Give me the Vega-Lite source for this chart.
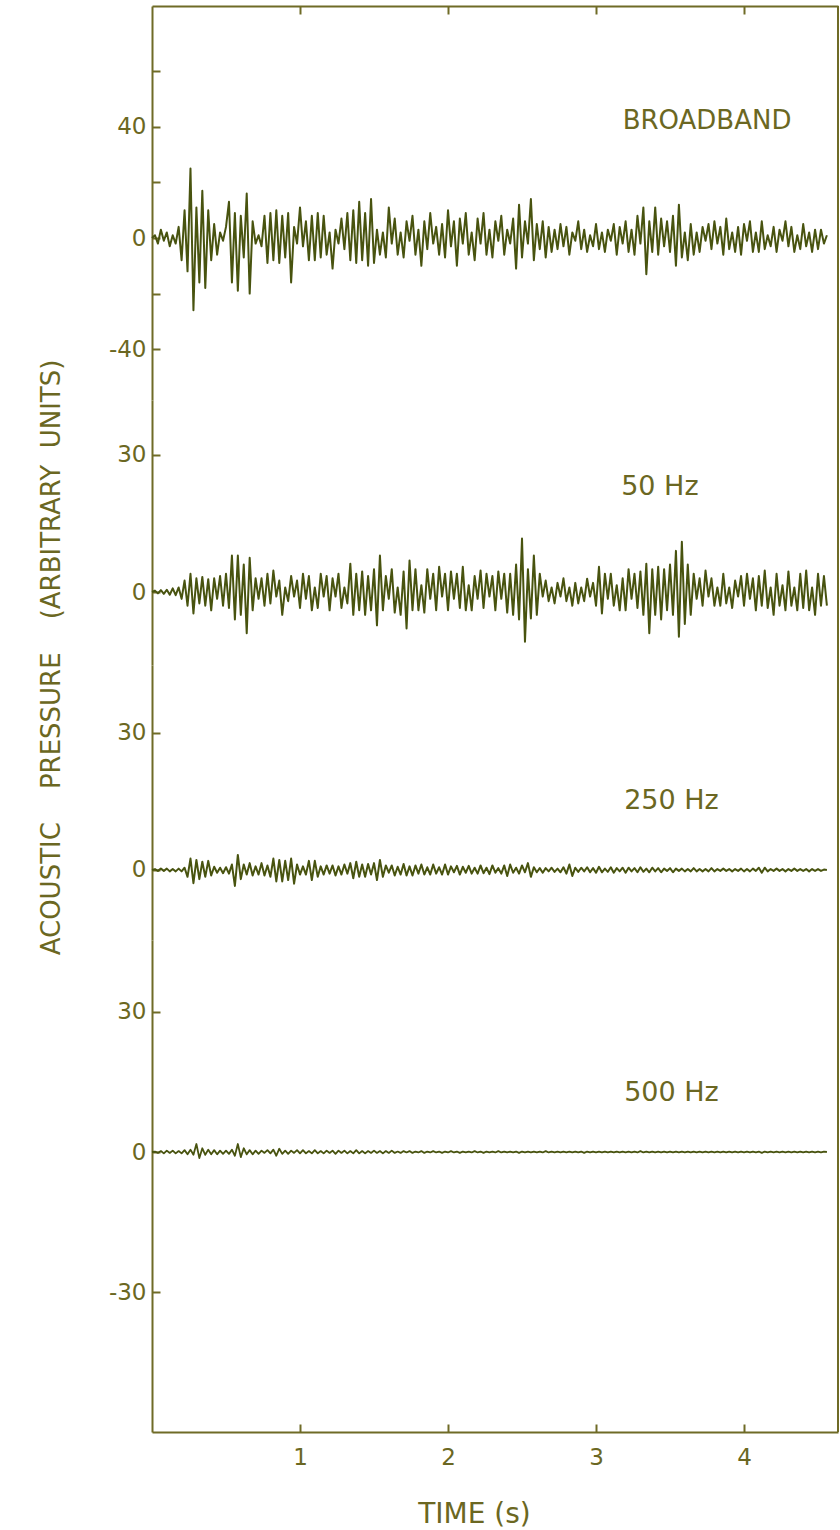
{
"$schema":"https://vega.github.io/schema/vega-lite/v6.json",
"background":"#ffffff",
"padding":{"left":37,"top":5,"right":2,"bottom":2},
"spacing":0,
"bounds":"flush",
"config":{"view":{"stroke":null},"font":"DejaVu Sans",
"axis":{"grid":false,"domainColor":"#6f6b26","domainWidth":2,"tickColor":"#6f6b26","tickWidth":2,"labelColor":"#6b6722","titleColor":"#6b6722","labelFont":"DejaVu Sans","titleFont":"DejaVu Sans","labelFontSize":23,"titleFontWeight":"normal"}},
"datasets":{"w":[
{"t":0.00,"bb":0,"h50":0,"h250":0,"h500":0},
{"t":0.02,"bb":1,"h50":0.3,"h250":0.2,"h500":0.1},
{"t":0.04,"bb":-2,"h50":-0.3,"h250":-0.2,"h500":-0.2},
{"t":0.06,"bb":3,"h50":0.4,"h250":0.3,"h500":0.2},
{"t":0.08,"bb":-1,"h50":-0.4,"h250":-0.2,"h500":-0.3},
{"t":0.10,"bb":2,"h50":0.5,"h250":0.3,"h500":0.3},
{"t":0.12,"bb":-3,"h50":-0.6,"h250":-0.3,"h500":-0.2},
{"t":0.14,"bb":1,"h50":0.8,"h250":0.2,"h500":0.3},
{"t":0.16,"bb":-2,"h50":-0.7,"h250":-0.3,"h500":-0.3},
{"t":0.18,"bb":4,"h50":1,"h250":0.3,"h500":0.2},
{"t":0.20,"bb":-8,"h50":-1.5,"h250":-0.3,"h500":-0.3},
{"t":0.22,"bb":10,"h50":2.5,"h250":0.5,"h500":0.4},
{"t":0.24,"bb":-12,"h50":-3,"h250":-1.5,"h500":-0.5},
{"t":0.26,"bb":25,"h50":4,"h250":2.5,"h500":0.5},
{"t":0.28,"bb":-26,"h50":-4.7,"h250":-2.9,"h500":-0.6},
{"t":0.30,"bb":11,"h50":3,"h250":2.2,"h500":1.7},
{"t":0.32,"bb":-16,"h50":-2.5,"h250":-2,"h500":-1.3},
{"t":0.34,"bb":17,"h50":3.3,"h250":1.8,"h500":0.8},
{"t":0.36,"bb":-18,"h50":-3,"h250":-1.5,"h500":-0.6},
{"t":0.38,"bb":10,"h50":2.8,"h250":2,"h500":0.5},
{"t":0.40,"bb":-8,"h50":-4,"h250":-1.2,"h500":-0.5},
{"t":0.42,"bb":5,"h50":3,"h250":0.7,"h500":0.4},
{"t":0.44,"bb":-6,"h50":-1.5,"h250":-0.6,"h500":-0.5},
{"t":0.46,"bb":2,"h50":3.5,"h250":0.5,"h500":0.3},
{"t":0.48,"bb":-1,"h50":-3,"h250":-0.7,"h500":-0.4},
{"t":0.50,"bb":4,"h50":4,"h250":0.6,"h500":0.3},
{"t":0.52,"bb":13,"h50":-3.5,"h250":-0.8,"h500":-0.4},
{"t":0.54,"bb":-16,"h50":8,"h250":1.2,"h500":0.5},
{"t":0.56,"bb":9,"h50":-6,"h250":-3.5,"h500":-0.8},
{"t":0.58,"bb":-19,"h50":8,"h250":3.3,"h500":1.7},
{"t":0.60,"bb":8,"h50":-5,"h250":-2,"h500":-1.1},
{"t":0.62,"bb":-7,"h50":6,"h250":1.2,"h500":0.8},
{"t":0.64,"bb":16,"h50":-9,"h250":-1,"h500":-0.5},
{"t":0.66,"bb":-20,"h50":7.5,"h250":1.5,"h500":0.4},
{"t":0.68,"bb":6,"h50":-4,"h250":-1.2,"h500":-0.5},
{"t":0.70,"bb":-2,"h50":3,"h250":0.8,"h500":0.3},
{"t":0.72,"bb":1,"h50":-1.5,"h250":-1,"h500":-0.4},
{"t":0.74,"bb":-3,"h50":3,"h250":1.5,"h500":0.3},
{"t":0.76,"bb":8,"h50":-3,"h250":-1.2,"h500":-0.2},
{"t":0.78,"bb":-9,"h50":4,"h250":1,"h500":0.4},
{"t":0.80,"bb":9,"h50":-2.5,"h250":-1.5,"h500":-0.3},
{"t":0.82,"bb":-8,"h50":4.7,"h250":2.5,"h500":0.5},
{"t":0.84,"bb":10,"h50":-1,"h250":-2.5,"h500":-0.8},
{"t":0.86,"bb":-9,"h50":2.5,"h250":2.2,"h500":0.7},
{"t":0.88,"bb":8,"h50":-5,"h250":-2.5,"h500":-0.4},
{"t":0.90,"bb":-7,"h50":1,"h250":2,"h500":0.3},
{"t":0.92,"bb":9,"h50":-2,"h250":-2.2,"h500":-0.4},
{"t":0.94,"bb":-16,"h50":3.5,"h250":2.5,"h500":0.3},
{"t":0.96,"bb":4,"h50":-1,"h250":-3,"h500":-0.2},
{"t":0.98,"bb":-2,"h50":2.5,"h250":1.2,"h500":0.4},
{"t":1.00,"bb":11,"h50":-3.5,"h250":-1,"h500":-0.3},
{"t":1.02,"bb":-3,"h50":4,"h250":0.8,"h500":0.4},
{"t":1.04,"bb":6,"h50":-1.5,"h250":-1,"h500":-0.3},
{"t":1.06,"bb":-8,"h50":3.5,"h250":2,"h500":0.2},
{"t":1.08,"bb":8,"h50":-4,"h250":-2.2,"h500":-0.3},
{"t":1.10,"bb":-8,"h50":1,"h250":2,"h500":0.4},
{"t":1.12,"bb":9,"h50":-3.5,"h250":-1.5,"h500":-0.3},
{"t":1.14,"bb":-7,"h50":4,"h250":0.8,"h500":0.2},
{"t":1.16,"bb":8,"h50":-1,"h250":-1,"h500":-0.3},
{"t":1.18,"bb":-6,"h50":3.5,"h250":1,"h500":0.3},
{"t":1.20,"bb":2,"h50":-4,"h250":-0.8,"h500":-0.2},
{"t":1.22,"bb":-11,"h50":3,"h250":1,"h500":0.3},
{"t":1.24,"bb":3,"h50":-1,"h250":-1.2,"h500":-0.4},
{"t":1.26,"bb":-2,"h50":4,"h250":0.8,"h500":0.3},
{"t":1.28,"bb":7,"h50":-3.5,"h250":-1,"h500":-0.2},
{"t":1.30,"bb":-4,"h50":1,"h250":1.2,"h500":0.3},
{"t":1.32,"bb":9,"h50":-2.5,"h250":-0.8,"h500":-0.3},
{"t":1.34,"bb":-8,"h50":6.2,"h250":1.5,"h500":0.2},
{"t":1.36,"bb":10,"h50":-5,"h250":-1.8,"h500":-0.3},
{"t":1.38,"bb":-9,"h50":4,"h250":1.8,"h500":0.4},
{"t":1.40,"bb":13,"h50":-4,"h250":-1.5,"h500":-0.3},
{"t":1.42,"bb":-8,"h50":4.5,"h250":1.2,"h500":0.2},
{"t":1.44,"bb":9,"h50":-5,"h250":-1.5,"h500":-0.3},
{"t":1.46,"bb":-10,"h50":3.5,"h250":1.3,"h500":0.2},
{"t":1.48,"bb":14,"h50":-4,"h250":-1,"h500":-0.2},
{"t":1.50,"bb":-9,"h50":5,"h250":1.5,"h500":0.3},
{"t":1.52,"bb":3,"h50":-7.3,"h250":-2.2,"h500":-0.2},
{"t":1.54,"bb":-6,"h50":8,"h250":2.2,"h500":0.2},
{"t":1.56,"bb":2,"h50":-4,"h250":-1.5,"h500":-0.3},
{"t":1.58,"bb":-7,"h50":3.5,"h250":1,"h500":0.2},
{"t":1.60,"bb":11,"h50":-1.5,"h250":-0.6,"h500":-0.2},
{"t":1.62,"bb":-2,"h50":5,"h250":1,"h500":0.3},
{"t":1.64,"bb":7,"h50":-4.5,"h250":-1.2,"h500":-0.2},
{"t":1.66,"bb":-6,"h50":1,"h250":0.7,"h500":0.1},
{"t":1.68,"bb":2,"h50":-5,"h250":-1,"h500":-0.2},
{"t":1.70,"bb":-7,"h50":4.5,"h250":1.3,"h500":0.2},
{"t":1.72,"bb":6,"h50":-8,"h250":-1.2,"h500":-0.1},
{"t":1.74,"bb":-1,"h50":6.9,"h250":0.8,"h500":0.2},
{"t":1.76,"bb":8,"h50":-4,"h250":-1.2,"h500":-0.2},
{"t":1.78,"bb":-6,"h50":5,"h250":1,"h500":0.1},
{"t":1.80,"bb":3,"h50":-4,"h250":-0.8,"h500":-0.1},
{"t":1.82,"bb":-10,"h50":1.5,"h250":1.2,"h500":0.2},
{"t":1.84,"bb":6,"h50":-4.5,"h250":-1,"h500":-0.2},
{"t":1.86,"bb":-4,"h50":5,"h250":0.6,"h500":0.1},
{"t":1.88,"bb":9,"h50":-1.5,"h250":-1,"h500":-0.1},
{"t":1.90,"bb":-2,"h50":4,"h250":1.2,"h500":0.2},
{"t":1.92,"bb":4,"h50":-4,"h250":-0.8,"h500":-0.1},
{"t":1.94,"bb":-6,"h50":5.5,"h250":0.6,"h500":0.1},
{"t":1.96,"bb":5,"h50":-1,"h250":-1,"h500":-0.2},
{"t":1.98,"bb":-7,"h50":4,"h250":1.2,"h500":0.1},
{"t":2.00,"bb":10,"h50":-4,"h250":-1,"h500":-0.1},
{"t":2.02,"bb":-3,"h50":4.5,"h250":0.8,"h500":0.2},
{"t":2.04,"bb":6,"h50":-1.5,"h250":-0.5,"h500":-0.1},
{"t":2.06,"bb":-10,"h50":4,"h250":0.9,"h500":0.1},
{"t":2.08,"bb":7,"h50":-3.5,"h250":-1,"h500":-0.2},
{"t":2.10,"bb":-2,"h50":5.5,"h250":0.7,"h500":0.1},
{"t":2.12,"bb":9,"h50":-4,"h250":-0.6,"h500":-0.1},
{"t":2.14,"bb":-6,"h50":1.5,"h250":0.9,"h500":0.1},
{"t":2.16,"bb":2,"h50":-4,"h250":-0.8,"h500":-0.1},
{"t":2.18,"bb":-8,"h50":3.5,"h250":0.5,"h500":0.2},
{"t":2.20,"bb":7,"h50":-1.5,"h250":-0.8,"h500":-0.1},
{"t":2.22,"bb":-2,"h50":4.7,"h250":1,"h500":0.1},
{"t":2.24,"bb":9,"h50":-3.5,"h250":-0.7,"h500":-0.2},
{"t":2.26,"bb":-6,"h50":4,"h250":0.5,"h500":0.1},
{"t":2.28,"bb":3,"h50":-1,"h250":-0.9,"h500":-0.1},
{"t":2.30,"bb":-7,"h50":3.5,"h250":1,"h500":0.1},
{"t":2.32,"bb":6,"h50":-4,"h250":-0.6,"h500":-0.1},
{"t":2.34,"bb":-1,"h50":4.5,"h250":0.4,"h500":0.2},
{"t":2.36,"bb":8,"h50":-1.5,"h250":-0.8,"h500":-0.1},
{"t":2.38,"bb":-6,"h50":4,"h250":1,"h500":0.1},
{"t":2.40,"bb":3,"h50":-4.5,"h250":-1.3,"h500":-0.1},
{"t":2.42,"bb":-2,"h50":4,"h250":1.2,"h500":0.1},
{"t":2.44,"bb":7,"h50":-5,"h250":-0.6,"h500":-0.1},
{"t":2.46,"bb":-11,"h50":6,"h250":0.5,"h500":0.1},
{"t":2.48,"bb":12,"h50":-6,"h250":-0.8,"h500":-0.2},
{"t":2.50,"bb":-7,"h50":11.7,"h250":1,"h500":0.1},
{"t":2.52,"bb":6,"h50":-10.9,"h250":-0.5,"h500":-0.1},
{"t":2.54,"bb":-2,"h50":5,"h250":1.5,"h500":0.1},
{"t":2.56,"bb":14,"h50":-5.8,"h250":-1.5,"h500":-0.1},
{"t":2.58,"bb":-8,"h50":8,"h250":0.6,"h500":0.1},
{"t":2.60,"bb":5,"h50":-5,"h250":-0.5,"h500":-0.1},
{"t":2.62,"bb":-4,"h50":4,"h250":0.4,"h500":0.1},
{"t":2.64,"bb":6,"h50":-1,"h250":-0.6,"h500":-0.1},
{"t":2.66,"bb":-7,"h50":2.5,"h250":0.4,"h500":0.2},
{"t":2.68,"bb":4,"h50":-2,"h250":-0.3,"h500":-0.1},
{"t":2.70,"bb":-5,"h50":1,"h250":0.5,"h500":0.1},
{"t":2.72,"bb":3,"h50":-2.5,"h250":-0.4,"h500":-0.1},
{"t":2.74,"bb":-4,"h50":2,"h250":0.3,"h500":0.1},
{"t":2.76,"bb":5,"h50":-1,"h250":-0.5,"h500":-0.1},
{"t":2.78,"bb":-3,"h50":3,"h250":0.6,"h500":0.1},
{"t":2.80,"bb":4,"h50":-2,"h250":-0.8,"h500":-0.1},
{"t":2.82,"bb":-6,"h50":1,"h250":1.2,"h500":0.1},
{"t":2.84,"bb":2,"h50":-3,"h250":-1.3,"h500":-0.1},
{"t":2.86,"bb":-1,"h50":2,"h250":0.5,"h500":0.1},
{"t":2.88,"bb":6,"h50":-2.5,"h250":-0.4,"h500":-0.1},
{"t":2.90,"bb":-4,"h50":1,"h250":0.5,"h500":0.1},
{"t":2.92,"bb":3,"h50":-2,"h250":-0.3,"h500":-0.2},
{"t":2.94,"bb":-5,"h50":2.9,"h250":0.6,"h500":0.1},
{"t":2.96,"bb":1,"h50":-1,"h250":-0.5,"h500":-0.1},
{"t":2.98,"bb":-3,"h50":2,"h250":0.4,"h500":0.1},
{"t":3.00,"bb":5,"h50":-3,"h250":-0.6,"h500":-0.1},
{"t":3.02,"bb":-4,"h50":5.5,"h250":0.7,"h500":0.1},
{"t":3.04,"bb":2,"h50":-4.7,"h250":-0.5,"h500":-0.1},
{"t":3.06,"bb":-5,"h50":4,"h250":0.3,"h500":0.1},
{"t":3.08,"bb":3,"h50":-1.5,"h250":-0.4,"h500":-0.1},
{"t":3.10,"bb":-1,"h50":4,"h250":0.6,"h500":0.1},
{"t":3.12,"bb":5,"h50":-3,"h250":-0.6,"h500":-0.1},
{"t":3.14,"bb":-6,"h50":1.5,"h250":0.4,"h500":0.1},
{"t":3.16,"bb":4,"h50":-4,"h250":-0.3,"h500":-0.1},
{"t":3.18,"bb":-2,"h50":3,"h250":0.5,"h500":0.1},
{"t":3.20,"bb":6,"h50":-4,"h250":-0.6,"h500":-0.1},
{"t":3.22,"bb":-5,"h50":5,"h250":0.5,"h500":0.1},
{"t":3.24,"bb":3,"h50":-1.5,"h250":-0.3,"h500":-0.1},
{"t":3.26,"bb":-6,"h50":4,"h250":0.4,"h500":0.1},
{"t":3.28,"bb":8,"h50":-3.5,"h250":-0.5,"h500":-0.1},
{"t":3.30,"bb":-2,"h50":4.5,"h250":0.6,"h500":0.2},
{"t":3.32,"bb":11,"h50":-5,"h250":-0.4,"h500":-0.1},
{"t":3.34,"bb":-13,"h50":6.2,"h250":0.3,"h500":0.1},
{"t":3.36,"bb":6,"h50":-9,"h250":-0.5,"h500":-0.1},
{"t":3.38,"bb":-5,"h50":5,"h250":0.5,"h500":0.1},
{"t":3.40,"bb":11,"h50":-5,"h250":-0.3,"h500":-0.1},
{"t":3.42,"bb":-6,"h50":5.5,"h250":0.4,"h500":0.1},
{"t":3.44,"bb":7,"h50":-6,"h250":-0.5,"h500":-0.1},
{"t":3.46,"bb":-3,"h50":5,"h250":0.3,"h500":0.1},
{"t":3.48,"bb":6,"h50":-4,"h250":-0.2,"h500":-0.1},
{"t":3.50,"bb":-5,"h50":6,"h250":0.4,"h500":0.1},
{"t":3.52,"bb":8,"h50":-5,"h250":-0.5,"h500":-0.1},
{"t":3.54,"bb":-10,"h50":9,"h250":0.3,"h500":0.1},
{"t":3.56,"bb":12,"h50":-9.8,"h250":-0.2,"h500":-0.1},
{"t":3.58,"bb":-7,"h50":11,"h250":0.3,"h500":0.1},
{"t":3.60,"bb":2,"h50":-7,"h250":-0.3,"h500":-0.1},
{"t":3.62,"bb":-8,"h50":6,"h250":0.2,"h500":0.1},
{"t":3.64,"bb":5,"h50":-5,"h250":-0.3,"h500":-0.1},
{"t":3.66,"bb":-6,"h50":4,"h250":0.4,"h500":0.1},
{"t":3.68,"bb":2,"h50":-1.5,"h250":-0.3,"h500":-0.1},
{"t":3.70,"bb":-5,"h50":3,"h250":0.2,"h500":0.1},
{"t":3.72,"bb":4,"h50":-3,"h250":-0.3,"h500":-0.1},
{"t":3.74,"bb":-1,"h50":4.7,"h250":0.2,"h500":0.1},
{"t":3.76,"bb":5,"h50":-1,"h250":-0.3,"h500":-0.1},
{"t":3.78,"bb":-4,"h50":3,"h250":0.4,"h500":0.1},
{"t":3.80,"bb":6,"h50":-3,"h250":-0.3,"h500":-0.1},
{"t":3.82,"bb":-2,"h50":1,"h250":0.2,"h500":0.1},
{"t":3.84,"bb":4,"h50":-3,"h250":-0.2,"h500":-0.1},
{"t":3.86,"bb":-6,"h50":4,"h250":0.3,"h500":0.1},
{"t":3.88,"bb":7,"h50":-2.5,"h250":-0.2,"h500":-0.1},
{"t":3.90,"bb":-4,"h50":1,"h250":0.2,"h500":0.1},
{"t":3.92,"bb":2,"h50":-3.5,"h250":-0.3,"h500":-0.1},
{"t":3.94,"bb":-5,"h50":2.5,"h250":0.2,"h500":0.1},
{"t":3.96,"bb":4,"h50":-1,"h250":-0.2,"h500":-0.1},
{"t":3.98,"bb":-6,"h50":3.5,"h250":0.3,"h500":0.1},
{"t":4.00,"bb":5,"h50":-3,"h250":-0.3,"h500":-0.1},
{"t":4.02,"bb":-1,"h50":4,"h250":0.2,"h500":0.1},
{"t":4.04,"bb":6,"h50":-1.5,"h250":-0.3,"h500":-0.1},
{"t":4.06,"bb":-5,"h50":3,"h250":0.3,"h500":0.1},
{"t":4.08,"bb":2,"h50":-4,"h250":-0.2,"h500":-0.1},
{"t":4.10,"bb":-5,"h50":3.5,"h250":0.5,"h500":0.1},
{"t":4.12,"bb":6,"h50":-3,"h250":-0.6,"h500":-0.2},
{"t":4.14,"bb":-4,"h50":4.7,"h250":0.5,"h500":0.1},
{"t":4.16,"bb":1,"h50":-3.5,"h250":-0.3,"h500":-0.1},
{"t":4.18,"bb":-3,"h50":1,"h250":0.2,"h500":0.1},
{"t":4.20,"bb":4,"h50":-5,"h250":-0.2,"h500":-0.1},
{"t":4.22,"bb":-5,"h50":4,"h250":0.3,"h500":0.1},
{"t":4.24,"bb":3,"h50":-3,"h250":-0.2,"h500":-0.1},
{"t":4.26,"bb":-1,"h50":1.5,"h250":0.2,"h500":0.1},
{"t":4.28,"bb":6,"h50":-4,"h250":-0.3,"h500":-0.1},
{"t":4.30,"bb":-3,"h50":4.5,"h250":0.2,"h500":0.1},
{"t":4.32,"bb":4,"h50":-3,"h250":-0.2,"h500":-0.1},
{"t":4.34,"bb":-5,"h50":1,"h250":0.3,"h500":0.1},
{"t":4.36,"bb":1,"h50":-4,"h250":-0.2,"h500":-0.1},
{"t":4.38,"bb":-4,"h50":4,"h250":0.2,"h500":0.1},
{"t":4.40,"bb":5,"h50":-3.5,"h250":-0.2,"h500":-0.1},
{"t":4.42,"bb":-3,"h50":4.7,"h250":0.2,"h500":0.1},
{"t":4.44,"bb":2,"h50":-4,"h250":-0.3,"h500":-0.1},
{"t":4.46,"bb":-5,"h50":1,"h250":0.2,"h500":0.1},
{"t":4.48,"bb":3,"h50":-5,"h250":-0.2,"h500":-0.1},
{"t":4.50,"bb":-4,"h50":4,"h250":0.2,"h500":0.1},
{"t":4.52,"bb":3,"h50":-3,"h250":-0.2,"h500":-0.1},
{"t":4.54,"bb":-2,"h50":3.5,"h250":0.1,"h500":0.1},
{"t":4.56,"bb":1,"h50":-3,"h250":0,"h500":0}
]},
"vconcat":[
{"width":686,"height":394,
 "layer":[
  {"data":{"name":"w"},"mark":{"type":"line","color":"#48530f","strokeWidth":2,"strokeJoin":"round"},
   "encoding":{
    "x":{"field":"t","type":"quantitative","scale":{"domain":[0,4.635],"nice":false,"zero":false},
         "axis":{"orient":"top","values":[1,2,3,4],"labels":false,"tickSize":-8,"title":null}},
    "y":{"field":"bb","type":"quantitative","scale":{"domain":[-58.27,83.45],"nice":false,"zero":false},
         "axis":{"values":[-40,-20,0,20,40,60],"tickSize":-8,"labelPadding":14,"title":null,
                 "labelExpr":"datum.value == 40 ? '40' : datum.value == 0 ? '0' : datum.value == -40 ? '-40' : ''"}}}},
  {"data":{"values":[{"label":"BROADBAND"}]},"mark":{"type":"text","align":"left","baseline":"middle","fontSize":26,"color":"#6b6722"},
   "encoding":{"x":{"datum":3.18},"y":{"datum":42},"text":{"field":"label"}}},
  {"data":{"values":[{}]},"mark":{"type":"rule","color":"#6f6b26","strokeWidth":2},"encoding":{"x":{"datum":4.635}}}
 ]},
{"width":686,"height":265,
 "layer":[
  {"data":{"name":"w"},"mark":{"type":"line","color":"#48530f","strokeWidth":2,"strokeJoin":"round"},
   "encoding":{
    "x":{"field":"t","type":"quantitative","scale":{"domain":[0,4.635],"nice":false,"zero":false},"axis":null},
    "y":{"field":"h50","type":"quantitative","scale":{"domain":[-15.97,42.01],"nice":false,"zero":false},
         "axis":{"values":[0,30],"tickSize":-8,"labelPadding":14,
                 "title":"ACOUSTIC\u00a0\u00a0\u00a0\u00a0PRESSURE\u00a0\u00a0\u00a0\u00a0(ARBITRARY\u00a0\u00a0UNITS)","titleFontSize":26,"titleAngle":270,
                 "titleX":-93,"titleY":257,"titleAlign":"center","titleBaseline":"alphabetic"}}}},
  {"data":{"values":[{"label":"50 Hz"}]},"mark":{"type":"text","align":"left","baseline":"middle","fontSize":27,"color":"#6b6722"},
   "encoding":{"x":{"datum":3.17},"y":{"datum":22.9},"text":{"field":"label"}}},
  {"data":{"values":[{}]},"mark":{"type":"rule","color":"#6f6b26","strokeWidth":2},"encoding":{"x":{"datum":4.635}}}
 ]},
{"width":686,"height":275,
 "layer":[
  {"data":{"name":"w"},"mark":{"type":"line","color":"#48530f","strokeWidth":2,"strokeJoin":"round"},
   "encoding":{
    "x":{"field":"t","type":"quantitative","scale":{"domain":[0,4.635],"nice":false,"zero":false},"axis":null},
    "y":{"field":"h250","type":"quantitative","scale":{"domain":[-15.33,44.89],"nice":false,"zero":false},
         "axis":{"values":[0,30],"tickSize":-8,"labelPadding":14,"title":null}}}},
  {"data":{"values":[{"label":"250 Hz"}]},"mark":{"type":"text","align":"left","baseline":"middle","fontSize":27,"color":"#6b6722"},
   "encoding":{"x":{"datum":3.19},"y":{"datum":15.1},"text":{"field":"label"}}},
  {"data":{"values":[{}]},"mark":{"type":"rule","color":"#6f6b26","strokeWidth":2},"encoding":{"x":{"datum":4.635}}}
 ]},
{"width":686,"height":492,
 "layer":[
  {"data":{"name":"w"},"mark":{"type":"line","color":"#48530f","strokeWidth":1.8,"strokeJoin":"round"},
   "encoding":{
    "x":{"field":"t","type":"quantitative","scale":{"domain":[0,4.635],"nice":false,"zero":false},
         "axis":{"values":[1,2,3,4],"format":"d","tickSize":-8,"labelPadding":22,"title":"TIME (s)","titleFontSize":28,
                 "titleX":322,"titleY":90,"titleAlign":"center","titleBaseline":"alphabetic"}},
    "y":{"field":"h500","type":"quantitative","scale":{"domain":[-59.79,45.27],"nice":false,"zero":false},
         "axis":{"values":[-30,0,30],"tickSize":-8,"labelPadding":14,"title":null,
                 "labelExpr":"datum.value == -30 ? '-30' : datum.label"}}}},
  {"data":{"values":[{"label":"500 Hz"}]},"mark":{"type":"text","align":"left","baseline":"middle","fontSize":27,"color":"#6b6722"},
   "encoding":{"x":{"datum":3.19},"y":{"datum":12.7},"text":{"field":"label"}}},
  {"data":{"values":[{}]},"mark":{"type":"rule","color":"#6f6b26","strokeWidth":2},"encoding":{"x":{"datum":4.635}}}
 ]}
]
}
